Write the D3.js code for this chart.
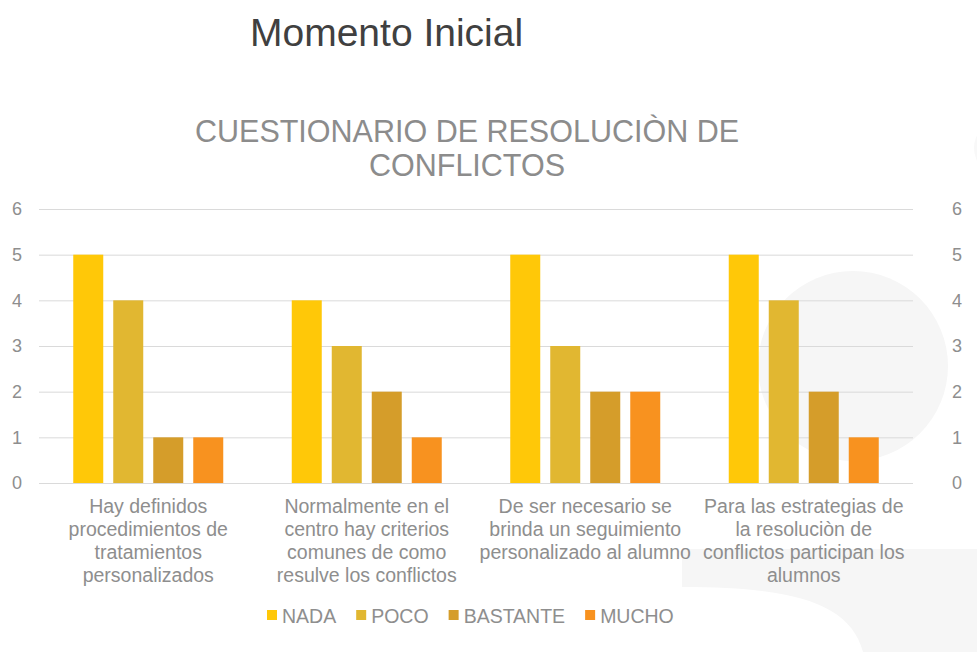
<!DOCTYPE html>
<html>
<head>
<meta charset="utf-8">
<script src="https://cdn.jsdelivr.net/npm/d3@7"></script>
<style>
  body { margin: 0; background: #fff; }
  svg { display: block; font-family: "Liberation Sans", Arial, sans-serif; }
</style>
</head>
<body>
<svg id="chart" width="977" height="652"></svg>
<script>
const categories = [
  ['Hay definidos', 'procedimientos de', 'tratamientos', 'personalizados'],
  ['Normalmente en el', 'centro hay criterios', 'comunes de como', 'resulve los conflictos'],
  ['De ser necesario se', 'brinda un seguimiento', 'personalizado al alumno'],
  ['Para las estrategias de', 'la resoluciòn de', 'conflictos participan los', 'alumnos']
]
const series = ['NADA', 'POCO', 'BASTANTE', 'MUCHO']
const colors = ['#ffc808', '#e1b731', '#d59d2a', '#f8921f']
const nada = [5, 4, 5, 5]
const poco = [4, 3, 3, 4]
const bastante = [1, 2, 2, 2]
const mucho = [1, 1, 2, 1]
const yTicks = [0, 1, 2, 3, 4, 5, 6]

const values = [nada, poco, bastante, mucho]
const rows = categories.map((c, i) => ({ id: i, lines: c, vals: series.map((s, j) => ({ key: s, v: values[j][i] })) }))

const textGray = '#8e8e8e'
const plotLeft = 39, plotRight = 913, plotTop = 209, plotBottom = 483

let svg = d3.select('#chart')

// faint background decoration
svg.append('circle').attr('cx', 853).attr('cy', 366).attr('r', 95).attr('fill', '#f6f6f6')
svg.append('circle').attr('cx', 1002).attr('cy', 148).attr('r', 28).attr('fill', '#f8f8f8')
svg.append('path')
  .attr('d', 'M682,549 H977 V652 H863 C850,602 790,587 682,587 Z')
  .attr('fill', '#f6f6f6')

svg.append('text')
  .attr('x', 250).attr('y', 46)
  .attr('fill', '#404040')
  .style('font-size', '39px')
  .text('Momento Inicial')

let title = svg.append('text')
  .attr('fill', '#8c8c8c')
  .style('font-size', '30.5px')
  .style('text-anchor', 'middle')
title.append('tspan').attr('x', 467).attr('y', 142).text('CUESTIONARIO DE RESOLUCIÒN DE')
title.append('tspan').attr('x', 467).attr('y', 176).text('CONFLICTOS')

let x0 = d3.scaleBand().domain(rows.map(d => d.id)).range([plotLeft, plotRight])
let x1 = d3.scaleBand().domain(series).range([-75, 75]).paddingInner(0.25).paddingOuter(0)
let y = d3.scaleLinear().domain([0, 6]).range([plotBottom, plotTop])
let color = d3.scaleOrdinal().domain(series).range(colors)

// gridlines
svg.append('g')
  .selectAll('line')
  .data(yTicks)
  .enter()
  .append('line')
  .attr('x1', plotLeft).attr('x2', plotRight)
  .attr('y1', d => y(d) + 0.5).attr('y2', d => y(d) + 0.5)
  .attr('stroke', '#dadada')
  .attr('stroke-width', 1)

// axes
let axL = svg.append('g')
  .attr('transform', `translate(${plotLeft},0)`)
  .call(d3.axisLeft(y).tickValues(yTicks).tickSize(0).tickPadding(17).tickFormat(d3.format('d')))
let axR = svg.append('g')
  .attr('transform', `translate(${plotRight},0)`)
  .call(d3.axisRight(y).tickValues(yTicks).tickSize(0).tickPadding(39).tickFormat(d3.format('d')))
for (const ax of [axL, axR]) {
  ax.select('.domain').remove()
  ax.selectAll('text')
    .attr('fill', textGray)
    .style('font-size', '18px')
    .style('font-family', '"Liberation Sans", Arial, sans-serif')
}

// bars
let groups = svg.append('g')
  .selectAll('g')
  .data(rows)
  .enter()
  .append('g')
  .attr('transform', d => `translate(${x0(d.id) + x0.bandwidth() / 2},0)`)

groups.selectAll('rect')
  .data(d => d.vals)
  .enter()
  .append('rect')
  .attr('x', d => x1(d.key))
  .attr('y', d => y(d.v))
  .attr('width', x1.bandwidth())
  .attr('height', d => y(0) - y(d.v))
  .attr('fill', d => color(d.key))

// category labels
groups.append('text')
  .attr('fill', textGray)
  .style('font-size', '19.5px')
  .style('text-anchor', 'middle')
  .selectAll('tspan')
  .data(d => d.lines)
  .enter()
  .append('tspan')
  .attr('x', 0)
  .attr('y', (d, i) => 513 + i * 23)
  .text(d => d)

// legend
let legend = svg.append('g').attr('transform', 'translate(0,616)')
let lx = 267
series.forEach(s => {
  let it = legend.append('g').attr('transform', `translate(${lx},0)`)
  it.append('rect').attr('x', 0).attr('y', -6).attr('width', 10).attr('height', 10).attr('fill', color(s))
  let t = it.append('text')
    .attr('x', 15).attr('y', 0)
    .attr('dy', '0.35em')
    .attr('fill', textGray)
    .style('font-size', '19.5px')
    .text(s)
  lx += 15 + t.node().getComputedTextLength() + 20
})
</script>
</body>
</html>
